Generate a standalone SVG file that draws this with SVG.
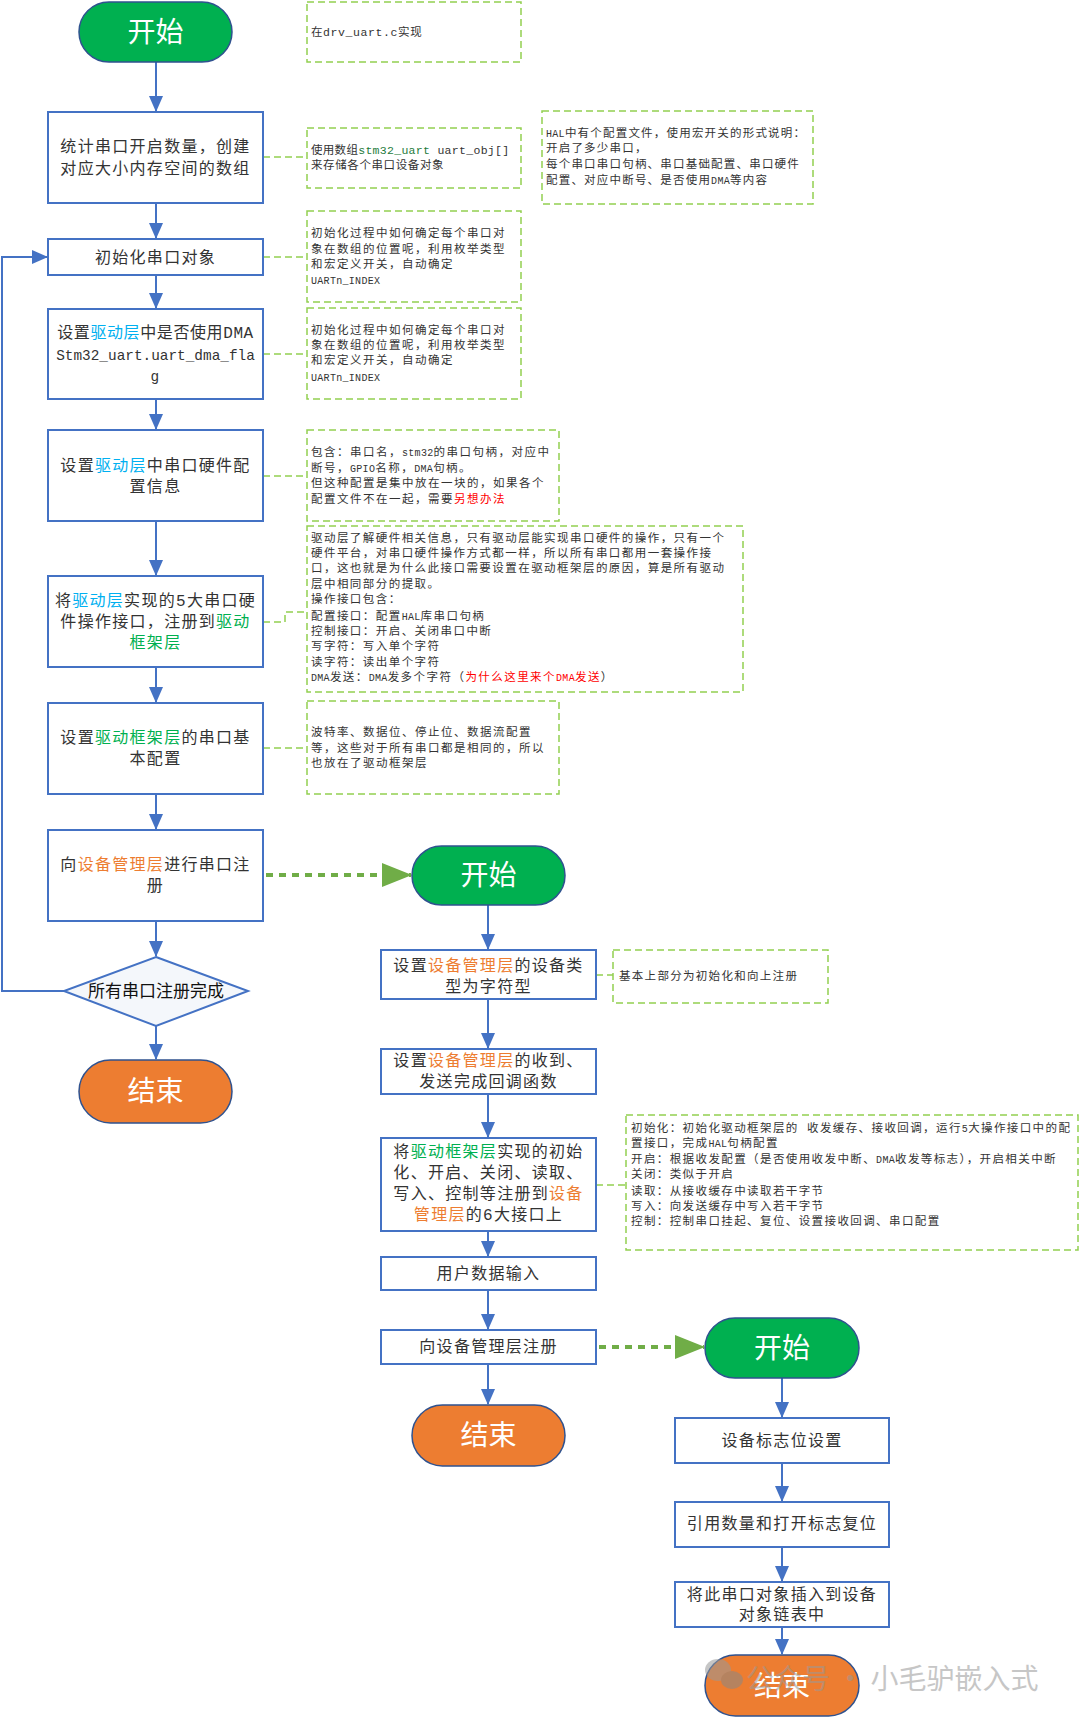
<svg xmlns="http://www.w3.org/2000/svg" width="1080" height="1718" viewBox="0 0 1080 1718">
<style>
.box{fill:#fff;stroke:#4472C4;stroke-width:2}
.term-g{fill:#00B050;stroke:#2F528F;stroke-width:1.5}
.term-o{fill:#ED7D31;stroke:#2F528F;stroke-width:1.5}
.tt{font-family:"Noto Sans CJK SC",sans-serif;font-size:28px;fill:#fff;text-anchor:middle}
.bt{font-family:"Liberation Mono","Noto Sans CJK SC",monospace;font-size:16px;fill:#333;text-anchor:middle;letter-spacing:1.3px}
.st{font-family:"Noto Sans CJK SC",sans-serif;font-size:17px;fill:#111;text-anchor:middle}
.note{fill:none;stroke:#92D050;stroke-width:1.5;stroke-dasharray:7 4}
.nt{font-family:"Liberation Mono","Noto Sans CJK SC",monospace;font-size:11.5px;fill:#333;letter-spacing:1.5px}
.lt{font-size:10px;letter-spacing:0.3px}
.nl{fill:none;stroke:#92D050;stroke-width:1.5;stroke-dasharray:7 4}
.cy{fill:#00B0F0}.gr{fill:#00B050}.or{fill:#ED7D31}.rd{fill:#FF0000}.dg{fill:#1E7B3C}
.c{fill:none;stroke:#4472C4;stroke-width:2}
.gd{fill:none;stroke:#70AD47;stroke-width:4;stroke-dasharray:7 6}
</style>
<defs>
<marker id="ab" markerUnits="userSpaceOnUse" markerWidth="16" markerHeight="14" refX="15" refY="7" orient="auto">
<path d="M0,0 L16,7 L0,14 Z" fill="#4472C4"/>
</marker>
<marker id="ag" markerUnits="userSpaceOnUse" markerWidth="30" markerHeight="24" refX="29" refY="12" orient="auto">
<path d="M0,0 L30,12 L0,24 Z" fill="#70AD47"/>
</marker>
</defs>

<g id="connectors">
<path class="c" d="M156 62 V111" marker-end="url(#ab)"/>
<path class="c" d="M156 203 V238" marker-end="url(#ab)"/>
<path class="c" d="M156 275 V308" marker-end="url(#ab)"/>
<path class="c" d="M156 399 V429" marker-end="url(#ab)"/>
<path class="c" d="M156 521 V575" marker-end="url(#ab)"/>
<path class="c" d="M156 667 V702" marker-end="url(#ab)"/>
<path class="c" d="M156 794 V829" marker-end="url(#ab)"/>
<path class="c" d="M156 921 V956" marker-end="url(#ab)"/>
<path class="c" d="M156 1026 V1059" marker-end="url(#ab)"/>
<path class="c" d="M64 991 H2 V257 H47" marker-end="url(#ab)"/>
<path class="c" d="M488 905 V949" marker-end="url(#ab)"/>
<path class="c" d="M488 999 V1048" marker-end="url(#ab)"/>
<path class="c" d="M488 1094 V1137" marker-end="url(#ab)"/>
<path class="c" d="M488 1231 V1256" marker-end="url(#ab)"/>
<path class="c" d="M488 1290 V1329" marker-end="url(#ab)"/>
<path class="c" d="M488 1364 V1404" marker-end="url(#ab)"/>
<path class="c" d="M782 1378 V1417" marker-end="url(#ab)"/>
<path class="c" d="M782 1463 V1501" marker-end="url(#ab)"/>
<path class="c" d="M782 1547 V1581" marker-end="url(#ab)"/>
<path class="c" d="M782 1627 V1654" marker-end="url(#ab)"/>
<path class="gd" d="M266 875 H411" marker-end="url(#ag)"/>
<path class="gd" d="M599 1347 H704" marker-end="url(#ag)"/>
<path class="nl" d="M263 157 H307"/>
<path class="nl" d="M263 257 H307"/>
<path class="nl" d="M263 354 H307"/>
<path class="nl" d="M263 476 H307"/>
<path class="nl" d="M263 622 H285 V612 H307"/>
<path class="nl" d="M263 748 H307"/>
<path class="nl" d="M596 975 H613"/>
<path class="nl" d="M596 1185 H626"/>
</g>

<g id="start1"><rect class="term-g" x="79" y="2" width="153" height="60" rx="30"/><text class="tt" x="155.5" y="42">开始</text></g>
<g id="n1"><rect class="box" x="48" y="112" width="215" height="91"/>
<text class="bt" x="155.5" y="152">统计串口开启数量，创建</text><text class="bt" x="155.5" y="174">对应大小内存空间的数组</text></g>
<g id="n2"><rect class="box" x="48" y="239" width="215" height="36"/><text class="bt" x="155.5" y="263">初始化串口对象</text></g>
<g id="n3"><rect class="box" x="48" y="309" width="215" height="90"/>
<text class="bt" x="155.5" y="338" style="letter-spacing:0.6px">设置<tspan class="cy">驱动层</tspan>中是否使用DMA</text>
<text class="bt" x="155.5" y="360" style="letter-spacing:0;font-size:14.4px">Stm32_uart.uart_dma_fla</text>
<text class="bt" x="155.5" y="381" style="font-size:14.4px">g</text></g>
<g id="n4"><rect class="box" x="48" y="430" width="215" height="91"/>
<text class="bt" x="155.5" y="471">设置<tspan class="cy">驱动层</tspan>中串口硬件配</text><text class="bt" x="155.5" y="492">置信息</text></g>
<g id="n5"><rect class="box" x="48" y="576" width="215" height="91"/>
<text class="bt" x="155.5" y="606">将<tspan class="cy">驱动层</tspan>实现的5大串口硬</text>
<text class="bt" x="155.5" y="627">件操作接口，注册到<tspan class="gr">驱动</tspan></text>
<text class="bt gr" x="155.5" y="648">框架层</text></g>
<g id="n6"><rect class="box" x="48" y="703" width="215" height="91"/>
<text class="bt" x="155.5" y="743">设置<tspan class="gr">驱动框架层</tspan>的串口基</text><text class="bt" x="155.5" y="764">本配置</text></g>
<g id="n7"><rect class="box" x="48" y="830" width="215" height="91"/>
<text class="bt" x="155.5" y="870">向<tspan class="or">设备管理层</tspan>进行串口注</text><text class="bt" x="155.5" y="891">册</text></g>
<g id="dec"><path d="M156 957 L248 991 L156 1026 L64 991 Z" fill="#F4F7FB" stroke="#4472C4" stroke-width="2"/>
<text class="st" x="156" y="997">所有串口注册完成</text></g>
<g id="end1"><rect class="term-o" x="79" y="1060" width="153" height="63" rx="31.5"/><text class="tt" x="155.5" y="1101">结束</text></g>

<g id="start2"><rect class="term-g" x="412" y="846" width="153" height="59" rx="29.5"/><text class="tt" x="488.5" y="885">开始</text></g>
<g id="m1"><rect class="box" x="381" y="950" width="215" height="49"/>
<text class="bt" x="488.5" y="971">设置<tspan class="or">设备管理层</tspan>的设备类</text><text class="bt" x="488.5" y="992">型为字符型</text></g>
<g id="m2"><rect class="box" x="381" y="1049" width="215" height="45"/>
<text class="bt" x="488.5" y="1066">设置<tspan class="or">设备管理层</tspan>的收到、</text><text class="bt" x="488.5" y="1087">发送完成回调函数</text></g>
<g id="m3"><rect class="box" x="381" y="1138" width="215" height="93"/>
<text class="bt" x="488.5" y="1157">将<tspan class="gr">驱动框架层</tspan>实现的初始</text>
<text class="bt" x="488.5" y="1178">化、开启、关闭、读取、</text>
<text class="bt" x="488.5" y="1199">写入、控制等注册到<tspan class="or">设备</tspan></text>
<text class="bt" x="488.5" y="1220"><tspan class="or">管理层</tspan>的6大接口上</text></g>
<g id="m4"><rect class="box" x="381" y="1257" width="215" height="33"/><text class="bt" x="488.5" y="1279">用户数据输入</text></g>
<g id="m5"><rect class="box" x="381" y="1330" width="215" height="34"/><text class="bt" x="488.5" y="1352">向设备管理层注册</text></g>
<g id="end2"><rect class="term-o" x="412" y="1405" width="153" height="61" rx="30.5"/><text class="tt" x="488.5" y="1445">结束</text></g>

<g id="start3"><rect class="term-g" x="705" y="1318" width="154" height="60" rx="30"/><text class="tt" x="782" y="1358">开始</text></g>
<g id="r1"><rect class="box" x="675" y="1418" width="214" height="45"/><text class="bt" x="782" y="1446">设备标志位设置</text></g>
<g id="r2"><rect class="box" x="675" y="1502" width="214" height="45"/><text class="bt" x="782" y="1529">引用数量和打开标志复位</text></g>
<g id="r3"><rect class="box" x="675" y="1582" width="214" height="45"/>
<text class="bt" x="782" y="1600">将此串口对象插入到设备</text><text class="bt" x="782" y="1620">对象链表中</text></g>
<g id="end3"><rect class="term-o" x="705" y="1655" width="154" height="61" rx="30.5"/><text class="tt" x="782" y="1696">结束</text></g>

<g id="note0"><rect class="note" x="307" y="2" width="214" height="60"/><text class="nt" x="311" y="36" style="letter-spacing:0.6px">在drv_uart.c实现</text></g>
<g id="note1"><rect class="note" x="307" y="128" width="214" height="60"/>
<text class="nt" x="311" y="154" style="letter-spacing:0.3px">使用数组<tspan class="dg">stm32_uart</tspan> uart_obj[]</text><text class="nt" x="311" y="169" style="letter-spacing:0.6px">来存储各个串口设备对象</text></g>
<g id="note2"><rect class="note" x="542" y="111" width="271" height="93"/>
<g class="nt" style="letter-spacing:1.2px">
<text x="546" y="137"><tspan class="lt">HAL</tspan>中有个配置文件，使用宏开关的形式说明：</text>
<text x="546" y="152">开启了多少串口，</text>
<text x="546" y="168">每个串口串口句柄、串口基础配置、串口硬件</text>
<text x="546" y="184">配置、对应中断号、是否使用<tspan class="lt">DMA</tspan>等内容</text></g></g>
<g id="note3"><rect class="note" x="307" y="211" width="214" height="91"/>
<text class="nt" x="311" y="237">初始化过程中如何确定每个串口对</text>
<text class="nt" x="311" y="253">象在数组的位置呢，利用枚举类型</text>
<text class="nt" x="311" y="268">和宏定义开关，自动确定</text>
<text class="nt" x="311" y="284"><tspan class="lt">UARTn_INDEX</tspan></text></g>
<g id="note4"><rect class="note" x="307" y="308" width="214" height="91"/>
<text class="nt" x="311" y="334">初始化过程中如何确定每个串口对</text>
<text class="nt" x="311" y="349">象在数组的位置呢，利用枚举类型</text>
<text class="nt" x="311" y="364">和宏定义开关，自动确定</text>
<text class="nt" x="311" y="381"><tspan class="lt">UARTn_INDEX</tspan></text></g>
<g id="note5"><rect class="note" x="307" y="430" width="252" height="91"/>
<text class="nt" x="311" y="456">包含：串口名，<tspan class="lt">stm32</tspan>的串口句柄，对应中</text>
<text class="nt" x="311" y="472">断号，<tspan class="lt">GPIO</tspan>名称，<tspan class="lt">DMA</tspan>句柄。</text>
<text class="nt" x="311" y="487">但这种配置是集中放在一块的，如果各个</text>
<text class="nt" x="311" y="503">配置文件不在一起，需要<tspan class="rd">另想办法</tspan></text></g>
<g id="note6"><rect class="note" x="307" y="526" width="436" height="166"/>
<g class="nt" style="letter-spacing:1.45px">
<text x="311" y="542">驱动层了解硬件相关信息，只有驱动层能实现串口硬件的操作，只有一个</text>
<text x="311" y="557">硬件平台，对串口硬件操作方式都一样，所以所有串口都用一套操作接</text>
<text x="311" y="572">口，这也就是为什么此接口需要设置在驱动框架层的原因，算是所有驱动</text>
<text x="311" y="588">层中相同部分的提取。</text>
<text x="311" y="603">操作接口包含：</text>
<text x="311" y="620">配置接口：配置<tspan class="lt">HAL</tspan>库串口句柄</text>
<text x="311" y="635">控制接口：开启、关闭串口中断</text>
<text x="311" y="650">写字符：写入单个字符</text>
<text x="311" y="666">读字符：读出单个字符</text>
<text x="311" y="681"><tspan class="lt">DMA</tspan>发送：<tspan class="lt">DMA</tspan>发多个字符（<tspan class="rd">为什么这里来个<tspan class="lt">DMA</tspan>发送</tspan>）</text>
</g></g>
<g id="note7"><rect class="note" x="307" y="701" width="252" height="93"/>
<text class="nt" x="311" y="736">波特率、数据位、停止位、数据流配置</text>
<text class="nt" x="311" y="752">等，这些对于所有串口都是相同的，所以</text>
<text class="nt" x="311" y="767">也放在了驱动框架层</text></g>
<g id="note8"><rect class="note" x="613" y="950" width="215" height="53"/><text class="nt" x="619" y="980" style="letter-spacing:1.3px">基本上部分为初始化和向上注册</text></g>
<g id="note9"><rect class="note" x="626" y="1115" width="452" height="135"/>
<g class="nt" style="letter-spacing:1.4px">
<text x="631" y="1132">初始化：初始化驱动框架层的 收发缓存、接收回调，运行<tspan class="lt">5</tspan>大操作接口中的配</text>
<text x="631" y="1147">置接口，完成<tspan class="lt">HAL</tspan>句柄配置</text>
<text x="631" y="1163">开启：根据收发配置（是否使用收发中断、<tspan class="lt">DMA</tspan>收发等标志），开启相关中断</text>
<text x="631" y="1178">关闭：类似于开启</text>
<text x="631" y="1195">读取：从接收缓存中读取若干字节</text>
<text x="631" y="1210">写入：向发送缓存中写入若干字节</text>
<text x="631" y="1225">控制：控制串口挂起、复位、设置接收回调、串口配置</text></g></g>

<g id="watermark" opacity="0.55">
<ellipse cx="718" cy="1670" rx="13" ry="11" fill="#999"/>
<ellipse cx="732" cy="1680" rx="11" ry="9" fill="#888"/>
<text x="746" y="1689" font-family="Noto Sans CJK SC,sans-serif" font-size="28" fill="#999">公众号 · 小毛驴嵌入式</text>
</g>
</svg>
